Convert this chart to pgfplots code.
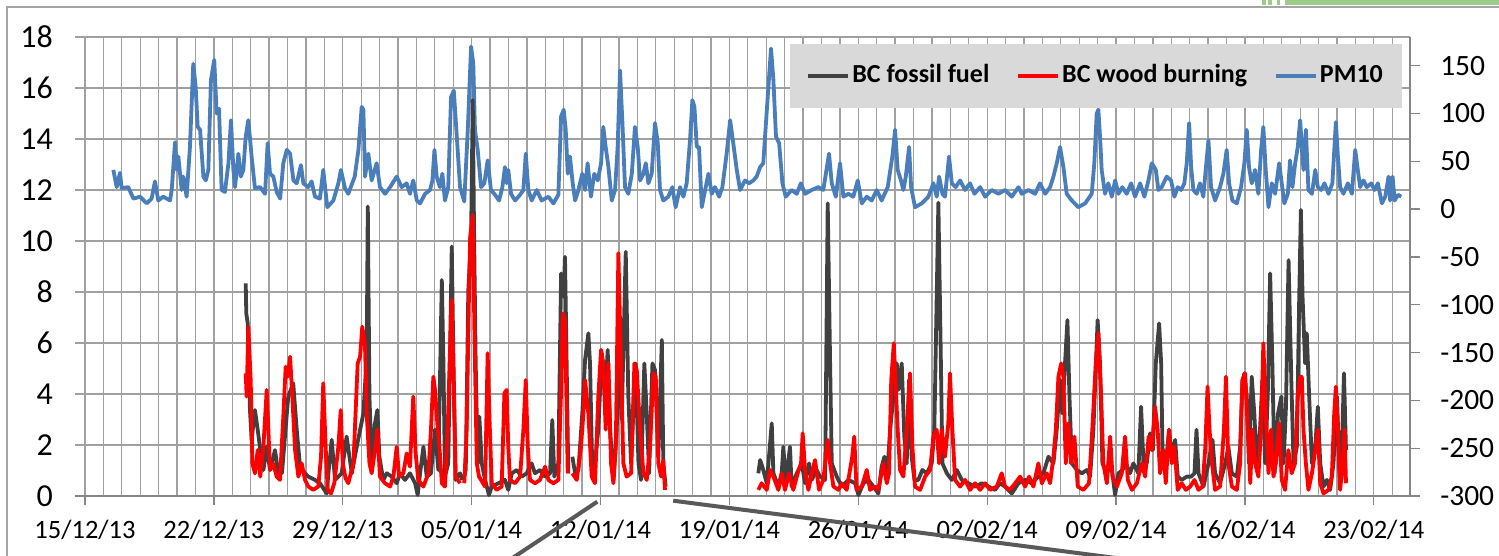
\documentclass[border=0pt]{standalone}
\usepackage{fontspec}
\setmainfont{Carlito}
\usepackage{pgfplots}
\usepackage{pgfplotstable}
\pgfplotsset{compat=1.18}
\definecolor{pmblue}{RGB}{74,126,187}
\definecolor{bcgray}{RGB}{64,64,64}
\definecolor{bcred}{RGB}{255,0,0}
\definecolor{gridgray}{RGB}{160,160,160}
\definecolor{axisgray}{RGB}{134,134,134}
\definecolor{legendgray}{RGB}{217,217,217}
\definecolor{bordergray}{RGB}{165,165,165}
\definecolor{callout}{RGB}{89,89,89}
\definecolor{deco}{RGB}{155,204,140}

\pgfplotstableread{
x y
1.54 41
1.72 23
1.90 38
1.99 22
2.35 23
2.63 11
2.99 13
3.35 6
3.62 11
3.80 29
3.98 9
4.25 13
4.62 9
4.71 20
4.89 70
4.98 41
5.07 55
5.25 20
5.34 34
5.52 13
5.70 65
5.88 152
6.01 128
6.12 86
6.25 83
6.43 34
6.56 30
6.70 41
6.84 135
7.02 156
7.15 100
7.28 105
7.42 20
7.60 18
7.79 48
7.93 93
8.06 41
8.15 23
8.33 58
8.46 34
8.60 41
8.73 76
8.87 93
9.05 55
9.23 22
9.51 23
9.78 16
9.92 69
10.05 37
10.23 34
10.41 18
10.60 11
10.77 48
10.96 62
11.14 58
11.32 30
11.50 27
11.73 46
11.86 27
12.13 23
12.31 29
12.49 13
12.76 11
12.94 41
13.16 2
13.49 9
13.76 27
13.90 41
14.12 22
14.30 16
14.65 34
14.85 62
15.03 107
15.12 104
15.21 34
15.39 58
15.57 30
15.84 48
16.02 23
16.30 16
16.57 23
16.93 34
17.20 23
17.47 27
17.65 16
17.83 30
18.02 9
18.20 6
18.47 16
18.74 20
18.87 30
18.98 62
19.10 34
19.28 23
19.41 37
19.55 9
19.73 23
19.88 117
20.03 124
20.17 83
20.37 23
20.60 8
20.79 83
20.97 170
21.09 152
21.18 83
21.33 62
21.51 23
21.69 27
21.87 51
22.05 20
22.27 15
22.49 9
22.67 23
22.81 44
22.90 27
22.99 41
23.14 16
23.36 9
23.63 15
23.81 20
23.94 58
24.08 20
24.26 9
24.54 20
24.80 9
25.17 13
25.44 6
25.71 15
25.86 97
26.00 104
26.11 83
26.22 37
26.34 55
26.49 27
26.62 9
26.80 20
27.01 37
27.16 20
27.30 48
27.48 13
27.66 37
27.85 30
28.03 48
28.15 86
28.28 65
28.43 44
28.61 9
28.79 20
28.93 65
29.06 145
29.19 90
29.33 23
29.51 16
29.70 37
29.87 86
30.02 65
30.15 30
30.33 37
30.46 48
30.60 27
30.78 37
30.96 90
31.11 69
31.23 20
31.41 9
31.68 13
31.90 23
32.08 2
32.32 23
32.50 13
32.68 27
32.86 72
32.99 114
33.10 107
33.23 65
33.35 65
33.50 2
33.64 16
33.86 37
34.04 16
34.22 23
34.44 13
34.62 23
34.85 58
35.04 93
35.21 69
35.40 41
35.58 20
35.85 30
36.07 27
36.30 30
36.48 34
36.67 44
36.84 48
37.08 117
37.26 168
37.39 135
37.53 76
37.70 69
37.88 27
38.06 13
38.38 20
38.66 16
38.88 27
39.11 16
39.47 20
39.83 23
40.10 20
40.41 58
40.56 27
40.78 13
41.01 48
41.19 13
41.46 16
41.73 13
41.97 30
42.19 6
42.46 13
42.73 9
43.00 20
43.27 9
43.60 23
43.85 55
44.00 83
44.14 41
44.32 30
44.45 20
44.58 34
44.76 65
44.87 23
45.08 2
45.45 6
45.81 13
46.08 27
46.26 13
46.39 34
46.57 16
46.71 13
46.93 55
47.08 27
47.29 23
47.53 30
47.80 20
48.07 27
48.31 16
48.62 23
48.89 13
49.25 20
49.61 16
49.97 20
50.34 13
50.70 23
50.88 16
51.24 20
51.60 16
51.87 27
52.15 16
52.42 23
52.60 34
52.78 48
52.96 65
53.14 44
53.32 16
53.60 9
53.95 2
54.32 6
54.68 16
54.82 48
54.95 100
55.04 104
55.13 76
55.22 41
55.40 16
55.58 27
55.77 13
55.95 30
56.13 16
56.34 23
56.58 16
56.82 27
57.03 13
57.31 27
57.54 13
57.76 30
57.94 48
58.16 41
58.30 20
58.48 23
58.75 34
58.99 30
59.17 13
59.35 23
59.53 20
59.71 27
59.84 48
59.97 90
60.08 44
60.20 20
60.38 16
60.56 27
60.74 13
60.87 41
61.02 72
61.16 23
61.38 9
61.65 23
61.83 37
62.01 62
62.14 27
62.32 9
62.56 6
62.79 23
62.97 48
63.10 83
63.22 44
63.37 27
63.55 41
63.73 16
63.88 62
64.00 86
64.13 41
64.28 2
64.46 27
64.64 16
64.86 48
65.00 27
65.14 6
65.33 16
65.45 51
65.58 23
65.73 48
65.87 65
66.00 93
66.09 65
66.18 41
66.31 83
66.45 20
66.64 16
66.82 41
66.96 23
67.14 20
67.32 27
67.54 16
67.75 27
67.94 91
68.05 55
68.17 23
68.35 16
68.59 27
68.81 16
68.99 62
69.13 41
69.26 23
69.44 30
69.62 23
69.86 27
70.04 20
70.22 27
70.44 6
70.62 13
70.80 34
70.89 9
71.02 34
71.13 9
71.31 15
71.49 13
}\pmten

\pgfplotstableread{
x y
8.73 8.34
8.76 7.16
8.84 6.77
8.96 3.37
9.05 2.2
9.23 3.37
9.38 2.6
9.50 1.93
9.69 1.02
9.87 1.93
10.05 1.02
10.32 1.8
10.50 0.89
10.70 0.9
10.86 2.33
11.04 3.9
11.31 4.42
11.50 2.6
11.68 1.15
11.95 0.89
12.13 0.76
12.49 0.63
12.76 0.5
13.13 0.1
13.22 0.89
13.40 2.2
13.58 0.63
13.94 0.89
14.21 2.33
14.49 0.89
14.76 1.93
15.12 3.24
15.30 5.46
15.36 11.35
15.45 3.9
15.57 1.28
15.75 2.85
15.88 3.37
15.99 1.54
16.20 0.63
16.39 0.89
16.66 0.76
16.93 0.5
17.11 0.89
17.38 0.63
17.65 0.89
17.93 0.5
18.07 0.04
18.20 0.89
18.38 1.93
18.56 0.76
18.79 0.89
19.01 2.6
19.19 1.02
19.38 8.47
19.47 5.2
19.55 0.76
19.73 1.28
19.92 9.78
20.00 5.85
20.13 0.63
20.37 0.89
20.49 0.63
20.55 nan
20.60 0.76
20.68 1.02
20.82 8.08
20.97 10.17
21.06 15.53
21.13 10.43
21.22 5.2
21.33 1.28
21.42 3.11
21.55 1.28
21.73 0.63
21.94 0.04
22.09 0.37
22.45 0.5
22.81 0.63
22.99 0.24
23.18 0.89
23.45 1.02
23.72 0.76
23.99 0.89
24.26 1.28
24.44 0.89
24.71 1.02
24.99 0.76
25.26 0.89
25.38 2.98
25.49 0.76
25.71 1.28
25.86 8.73
25.99 7.82
26.07 9.38
26.16 5.2
26.25 0.89
26.35 nan
26.47 1.54
26.62 0.89
26.80 1.02
27.01 3.24
27.16 5.33
27.34 6.38
27.43 5.2
27.56 0.76
27.70 1.28
27.88 2.6
28.07 5.6
28.25 3.9
28.39 5.73
28.52 2.6
28.70 0.63
28.88 2.6
29.02 6.5
29.15 3.0
29.37 9.58
29.51 3.9
29.66 1.28
29.78 3.24
29.91 5.2
30.06 1.28
30.20 0.63
30.38 5.2
30.51 3.24
30.64 0.89
30.82 5.2
30.96 4.94
31.14 1.54
31.33 6.12
31.41 1.28
31.54 0.37
34.00 nan
36.57 0.89
36.67 1.41
36.79 1.15
37.03 0.5
37.30 2.85
37.39 0.89
37.66 0.37
37.84 0.89
37.93 1.93
38.06 0.5
38.29 1.93
38.38 0.37
38.66 0.89
38.93 1.28
39.11 0.5
39.33 1.28
39.47 0.63
39.74 1.02
39.92 0.76
40.20 0.63
40.34 11.48
40.47 5.2
40.56 1.28
40.83 0.76
41.10 0.37
41.46 0.63
41.83 0.5
42.01 0.04
42.28 0.5
42.55 0.63
42.82 0.37
43.09 0.1
43.27 1.15
43.42 1.54
43.55 0.63
43.73 2.6
43.91 3.9
44.09 5.2
44.18 4.16
44.36 5.2
44.50 2.33
44.63 1.28
44.76 4.55
44.90 1.54
45.05 0.63
45.26 0.63
45.48 1.02
45.72 0.89
45.99 1.28
46.13 2.6
46.26 7.82
46.35 11.5
46.46 6.51
46.57 1.28
46.81 0.89
47.08 0.63
47.35 1.02
47.62 0.63
47.98 0.5
48.34 0.37
48.71 0.5
49.07 0.37
49.43 0.24
49.70 0.5
49.97 0.37
50.34 0.1
50.70 0.5
51.06 0.63
51.42 0.5
51.78 0.76
52.05 0.89
52.33 1.54
52.60 1.28
52.78 2.6
52.96 4.55
53.08 3.24
53.23 5.2
53.36 6.9
53.47 3.9
53.60 1.28
53.87 1.02
54.14 0.89
54.41 1.02
54.59 0.76
54.77 2.6
55.00 6.9
55.13 5.2
55.26 1.28
55.50 0.89
55.73 1.28
55.95 0.04
56.13 0.89
56.35 1.02
56.53 1.28
56.76 0.89
56.94 1.28
57.21 0.89
57.36 3.5
57.49 1.28
57.67 1.28
57.85 2.46
58.00 1.8
58.16 5.2
58.34 6.77
58.45 5.2
58.52 1.93
58.66 0.89
58.88 2.6
59.03 1.54
59.21 2.2
59.35 0.76
59.57 0.63
59.84 0.76
60.08 0.76
60.26 0.89
60.37 2.6
60.48 0.89
60.75 0.37
61.02 1.28
61.24 2.2
61.38 0.89
61.65 0.5
61.93 1.28
62.10 1.93
62.29 0.89
62.56 0.76
62.74 1.93
62.86 4.42
62.97 4.81
63.10 3.9
63.22 1.28
63.37 4.68
63.51 3.24
63.64 1.28
63.82 2.6
63.95 4.55
64.10 1.28
64.24 3.9
64.37 8.73
64.49 5.2
64.61 0.89
64.80 3.24
64.98 3.9
65.10 1.28
65.23 3.5
65.37 9.25
65.52 4.55
65.64 1.28
65.82 1.93
65.95 7.82
66.04 11.22
66.13 7.82
66.27 5.2
66.36 6.38
66.49 3.9
66.64 1.28
66.82 1.93
66.96 3.5
67.09 1.28
67.27 0.37
67.45 0.63
67.63 0.24
67.81 1.28
68.00 3.9
68.14 0.89
68.27 1.93
68.38 4.81
68.49 1.8
}\bcfossil

\pgfplotstableread{
x y
8.73 4.81
8.78 3.9
8.87 6.64
9.00 4.55
9.09 1.28
9.23 0.89
9.38 1.8
9.52 0.76
9.70 2.07
9.87 4.16
9.96 2.6
10.05 1.02
10.23 1.28
10.41 0.76
10.59 0.63
10.77 3.11
10.90 5.07
11.01 4.68
11.14 5.46
11.26 3.9
11.41 1.8
11.59 0.76
11.77 1.28
11.95 0.63
12.13 0.37
12.40 0.24
12.67 0.37
12.82 1.54
12.94 4.42
13.07 1.93
13.18 0.24
13.36 0.1
13.54 0.5
13.76 1.93
13.89 3.37
14.00 1.28
14.15 0.7
14.30 0.5
14.58 1.28
14.81 5.2
14.94 5.46
15.06 6.64
15.21 5.85
15.30 3.24
15.45 1.28
15.57 0.89
15.75 1.8
15.88 2.6
16.02 0.76
16.29 0.5
16.57 0.37
16.75 0.76
16.93 1.93
17.06 0.76
17.29 0.89
17.47 1.67
17.65 1.15
17.83 3.9
17.96 1.67
18.10 0.63
18.38 0.37
18.65 0.89
18.79 2.6
18.92 4.68
19.01 4.16
19.16 2.6
19.25 1.93
19.38 0.5
19.55 0.37
19.70 2.6
19.83 5.85
19.92 7.69
20.00 5.2
20.13 0.76
20.37 0.5
20.50 nan
20.60 0.5
20.73 2.6
20.86 8.08
20.92 10.17
21.06 11.02
21.15 6.51
21.28 1.28
21.40 0.76
21.73 0.37
21.87 5.6
21.96 3.24
22.09 0.5
22.36 0.24
22.63 0.37
22.78 4.03
22.90 4.16
22.99 1.93
23.08 0.63
23.36 0.5
23.63 0.76
23.81 2.6
23.94 4.55
24.05 1.93
24.17 0.63
24.44 0.5
24.71 0.63
24.99 1.15
25.17 0.63
25.44 0.5
25.71 0.63
25.86 4.16
25.95 7.16
26.07 6.9
26.14 4.16
26.22 0.89
26.35 nan
26.47 0.89
26.71 0.63
26.94 1.93
27.07 3.24
27.16 4.55
27.34 3.24
27.52 0.76
27.70 0.5
27.88 3.9
28.03 5.73
28.15 5.2
28.28 2.6
28.43 5.2
28.57 1.28
28.70 0.5
28.83 1.93
28.97 9.52
29.11 5.2
29.24 1.28
29.42 0.76
29.66 0.89
29.84 5.2
29.97 4.94
30.15 2.6
30.33 0.89
30.51 0.63
30.69 1.93
30.87 4.81
31.00 4.68
31.14 1.28
31.29 0.76
31.41 1.41
31.50 0.24
34.00 nan
36.57 0.24
36.75 0.5
37.03 0.24
37.21 1.02
37.39 0.76
37.66 0.24
37.84 0.89
38.02 0.24
38.24 0.89
38.47 0.24
38.71 0.89
38.89 1.28
38.98 2.46
39.11 1.02
39.29 0.24
39.47 0.89
39.65 1.41
39.87 0.24
40.10 0.63
40.34 2.2
40.47 1.28
40.65 0.37
40.92 0.24
41.10 0.5
41.37 0.24
41.67 1.54
41.78 2.33
41.91 0.24
42.19 0.37
42.46 1.02
42.64 0.24
42.91 0.37
43.09 0.24
43.36 1.28
43.55 0.5
43.67 0.89
43.79 4.55
43.93 5.99
44.14 2.6
44.27 1.02
44.45 0.76
44.63 2.6
44.81 4.81
44.94 1.93
45.08 0.37
45.36 0.24
45.63 0.76
45.90 1.02
46.08 2.33
46.26 2.6
46.39 1.28
46.53 2.6
46.71 1.54
46.89 2.85
46.98 4.81
47.11 2.6
47.26 0.63
47.53 0.37
47.80 0.63
48.07 0.24
48.34 0.5
48.62 0.24
48.89 0.5
49.16 0.24
49.52 0.37
49.79 0.89
49.97 0.37
50.24 0.24
50.52 0.5
50.79 0.76
51.06 0.37
51.28 0.76
51.51 0.37
51.78 1.28
51.97 0.5
52.24 0.89
52.42 0.5
52.60 1.54
52.73 2.6
52.87 4.68
53.02 5.2
53.14 4.68
53.27 1.28
53.41 2.85
53.56 1.28
53.74 2.33
53.92 0.37
54.23 0.24
54.53 0.5
54.71 2.6
54.90 5.2
55.04 6.38
55.19 3.9
55.31 1.28
55.50 0.5
55.68 2.33
55.81 0.76
56.05 0.37
56.31 0.89
56.49 2.33
56.64 0.63
56.86 0.24
57.13 0.5
57.40 1.28
57.58 0.76
57.77 2.33
57.94 1.8
58.12 3.5
58.26 2.6
58.39 0.89
58.57 1.8
58.70 0.5
58.88 2.6
59.03 1.28
59.17 1.93
59.35 0.24
59.57 0.5
59.79 0.24
60.03 0.37
60.26 0.63
60.48 0.24
60.70 0.37
60.85 1.93
60.97 4.29
61.08 2.6
61.21 1.28
61.38 0.24
61.65 0.37
61.86 2.6
61.97 4.68
62.10 1.28
62.29 0.37
62.56 0.24
62.74 1.28
62.86 4.55
63.01 4.81
63.16 2.6
63.29 0.5
63.41 2.6
63.55 1.28
63.73 0.76
63.88 2.6
64.00 5.99
64.13 3.24
64.28 0.89
64.42 2.6
64.55 0.76
64.68 1.28
64.86 2.85
65.00 0.63
65.18 0.24
65.36 1.8
65.54 0.89
65.72 1.28
65.87 3.9
66.00 4.68
66.09 4.68
66.18 2.6
66.31 1.28
66.45 0.24
66.64 0.89
66.82 1.8
66.96 2.6
67.09 0.5
67.27 0.1
67.54 0.24
67.72 0.76
67.85 3.24
67.94 4.29
68.05 2.6
68.17 0.24
68.32 1.28
68.41 2.6
68.49 0.5
}\bcwood

\begin{document}
\begin{tikzpicture}
\path[use as bounding box] (0pt,0pt) rectangle (1499pt,555pt);
% outer chart border and page decoration
\draw[bordergray, line width=1.5pt] (7pt,-5pt) -- (7pt,548pt) -- (1510pt,548pt);
\fill[deco] (1285pt,550pt) rectangle (1510pt,560pt);
\fill[deco] (1262pt,550pt) rectangle (1266pt,560pt);
\fill[deco] (1268pt,550pt) rectangle (1272pt,560pt);
\fill[deco] (1277pt,550pt) rectangle (1280pt,560pt);

% background axis: grid, x labels, left y labels
\begin{axis}[
  at={(75pt,59pt)}, anchor=south west,
  scale only axis, width=1335pt, height=459pt,
  xmin=-0.543, xmax=71.97, ymin=0, ymax=18,
  axis x line*=bottom, axis y line*=left,
  y axis line style={draw=none},
  x axis line style={draw=axisgray, line width=1.3pt},
  xtick={0,7,...,70},
  xticklabels={15/12/13,22/12/13,29/12/13,05/01/14,12/01/14,19/01/14,26/01/14,02/02/14,09/02/14,16/02/14,23/02/14},
  minor xtick={0,1,...,71},
  ytick={0,2,...,18},
  yticklabels={0,2,4,6,8,10,12,14,16,18},
  grid=both,
  major grid style={draw=gridgray, line width=1.3pt},
  minor grid style={draw=gridgray, line width=1.3pt},
  tick align=outside,
  major tick length=9pt, minor tick length=0pt,
  xtick style={draw=axisgray, line width=1.3pt},
  ytick style={draw=none},
  xticklabel style={font=\fontsize{26.5}{30}\selectfont, anchor=base, inner sep=0pt, yshift=-33pt},
  yticklabel style={font=\fontsize{32}{36}\selectfont, anchor=east, inner sep=0pt, xshift=-13pt},
]
\end{axis}

% PM10 on the secondary (right) axis
\begin{axis}[
  at={(75pt,59pt)}, anchor=south west,
  scale only axis, width=1335pt, height=459pt,
  xmin=-0.543, xmax=71.97, ymin=-300, ymax=180,
  axis x line=none, axis y line*=right,
  y axis line style={draw=axisgray, line width=1.3pt},
  ytick={-300,-250,...,150},
  yticklabels={-300,-250,-200,-150,-100,-50,0,50,100,150},
  tick align=outside, major tick length=10pt,
  ytick style={draw=axisgray, line width=1.3pt},
  yticklabel style={font=\fontsize{29.5}{33}\selectfont, anchor=west, inner sep=0pt, xshift=20pt},
  unbounded coords=jump,
]
\addplot[pmblue, line width=3.8pt, line join=round, no markers] table[x=x,y=y] {\pmten};
\end{axis}

% BC on the primary (left) axis, with legend
\begin{axis}[
  at={(75pt,59pt)}, anchor=south west,
  scale only axis, width=1335pt, height=459pt,
  xmin=-0.543, xmax=71.97, ymin=0, ymax=18,
  axis lines=none,
  unbounded coords=jump,
  legend columns=3,
  legend image code/.code={\draw[#1] (0pt,0pt) -- (40pt,0pt);},
  legend style={at={(1,1)}, anchor=north east, xshift=-8pt, yshift=-7pt,
    fill=legendgray, draw=none, inner xsep=17pt, inner ysep=18pt,
    font=\fontsize{26}{30}\selectfont\bfseries,
    /tikz/every even column/.append style={column sep=25pt},
    nodes={inner sep=2pt, text height=18pt, text depth=6pt}},
]
\addplot[bcgray, line width=3.8pt, line join=round, no markers] table[x=x,y=y] {\bcfossil};
\addlegendentry{BC fossil fuel}
\addplot[bcred, line width=3.8pt, line join=round, no markers] table[x=x,y=y] {\bcwood};
\addlegendentry{BC wood burning}
\addlegendimage{pmblue, line width=3.8pt}
\addlegendentry{PM10}
\end{axis}

% callout lines
\draw[callout, line width=4pt] (597.3pt,53.3pt) -- (502pt,-10pt);
\draw[callout, line width=4pt] (673.2pt,54.3pt) -- (1170pt,-10pt);
\end{tikzpicture}
\end{document}
